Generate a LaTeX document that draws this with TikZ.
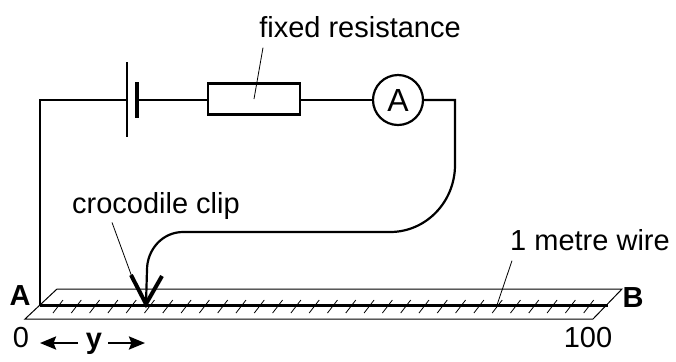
\documentclass[tikz,border=0pt]{standalone}
\usepackage{fontspec}
\setmainfont{Liberation Sans}
\usetikzlibrary{arrows.meta}

\begin{document}
\begin{tikzpicture}[
    x=0.5pt, y=-0.5pt,
    >={Stealth[length=8pt,width=6.5pt,inset=1.2pt]},
    wire/.style={
      line width=1.1pt
    },
    leader/.style={
      line width=0.4pt
    },
    stripline/.style={
      line width=0.5pt
    },
    hatch/.style={
      line width=0.4pt
    },
    lbl/.style={
      font=\fontsize{14.5}{17}\selectfont,
      inner sep=0pt,
      anchor=base
    },
    resistor/.style={
      draw,
      rectangle,
      line width=1.1pt,
      minimum width=46pt,
      minimum height=15.5pt,
      inner sep=0pt
    },
    meter/.style={
      draw,
      circle,
      line width=1.1pt,
      minimum size=25pt,
      inner sep=0pt,
      font=\fontsize{16}{18}\selectfont
    }
  ]
    \useasboundingbox (0,0) rectangle (676,361);

    % circuit
    \coordinate (tl) at (40,100);
    \coordinate (batl) at (127,100);
    \coordinate (bats) at (137,100);
    \node[resistor] (res) at (254,99) {};
    \node[meter] (amm) at (398,100) {A};
    \coordinate (tr) at (455,100);
    \coordinate (clip) at (146,304);
    \coordinate (wireA) at (40,305);
    \coordinate (wireB) at (608,305);

    \draw[line width=1.2pt] (127,62) -- (127,137);
    \draw[line width=1.6pt] (137,82) -- (137,118);

    \draw[wire] (batl) -- (tl) -- (wireA);
    \draw[wire] (bats) -- (bats -| res.west);
    \draw[wire] (bats -| res.east) -- (amm.west);
    \draw[wire] (amm.east) -- (tr) -- (455,165)
      to[out=-90,in=0] (390,232) -- (183,232)
      to[out=180,in=90] (147,270) -- (clip);

    % crocodile clip
    \draw[line width=2pt] (131,275) -- (clip) -- (162,276);

    % the metre wire on its strip
    \draw[stripline] (57,289) -- (622,289) -- (593,319) -- (25,319) -- cycle;
    \foreach \i in {0,...,29}
      \draw[hatch] ({58+18.3*\i-5},313) -- ({58+18.3*\i+5},300);
    \draw[line width=1.5pt] (wireA) -- (wireB);

    % labels
    \node[lbl] (fr) at (360,37) {fixed resistance};
    \draw[leader] (fr.south) ++(-97,10) -- (res.center);

    \node[lbl] (croc) at (156,213) {crocodile clip};
    \coordinate (crocend) at (132,277);
    \draw[leader] (croc.south) ++(-44,3) -- (crocend);

    \node[lbl] (mw) at (590,250) {1 metre wire};
    \coordinate (mwend) at (497,305);
    \draw[leader] (mw.south) ++(-78,10) -- (mwend);

    \node[lbl,font=\fontsize{14.5}{17}\selectfont\bfseries] (A) at (20,305) {A};
    \node[lbl,font=\fontsize{14.5}{17}\selectfont\bfseries] (B) at (633,307) {B};
    \node[lbl] (zero) at (21,347) {0};
    \node[lbl] (hundred) at (588,347) {100};

    \node[lbl,font=\fontsize{14.5}{17}\selectfont\bfseries] (ylab) at (94,348) {y};
    \coordinate (yl) at (40,343);
    \coordinate (yr) at (145,343);
    \draw[->,line width=1.2pt] (yl -| 78,0) -- (yl);
    \draw[->,line width=1.2pt] (yr -| 108,0) -- (yr);
  \end{tikzpicture}
\end{document}
